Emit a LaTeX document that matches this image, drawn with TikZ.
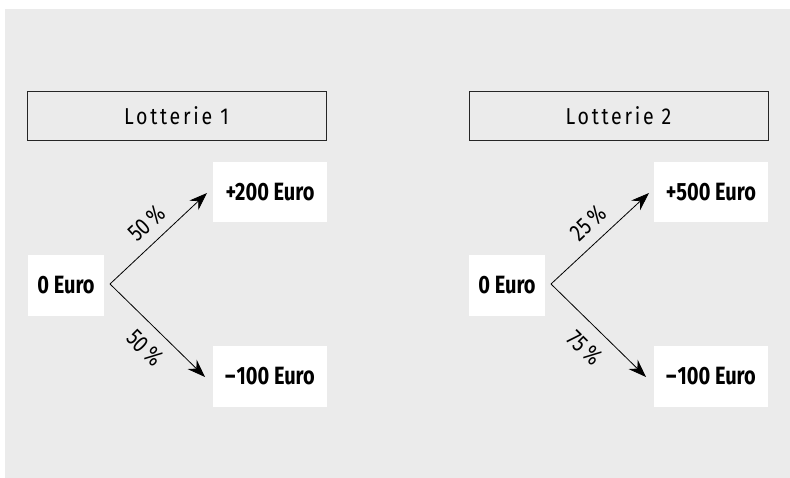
\documentclass[tikz,border=0pt]{standalone}
\usepackage{fontspec}
\setmainfont{Fira Sans}[FakeStretch=0.8]
\newfontfamily\spacedfont{Fira Sans}[FakeStretch=0.85,LetterSpace=12]
\usetikzlibrary{arrows.meta}
\definecolor{bggray}{HTML}{EBEBEB}
\begin{document}
\begin{tikzpicture}[x=1pt,y=-1pt,
  titlebox/.style={draw=black!85,line width=0.8pt,fill=bggray,minimum width=299pt,minimum height=49pt,inner sep=0pt,font=\spacedfont\fontsize{23}{23}\selectfont},
  valbox/.style={fill=white,inner sep=0pt,font=\bfseries\fontsize{25}{25}\selectfont},
  arr/.style={line width=0.8pt,-{Stealth[length=18pt,width=13pt,inset=6pt]}},
  pct/.style={font=\fontsize{24}{24}\selectfont,inner sep=0pt}]
\useasboundingbox (0,0) rectangle (790,478);
\fill[white] (0,0) rectangle (790,478);
\fill[bggray] (5,9) rectangle (790,478);
% Lotterie 1
\node[titlebox] (t1) at (176.5,115.5) {Lotterie 1};
\node[valbox,minimum width=76pt,minimum height=61pt] (s1) at (66,285.5) {0 Euro};
\node[valbox,minimum width=114pt,minimum height=60pt] (u1) at (270,192) {+200 Euro};
\node[valbox,minimum width=114pt,minimum height=61pt] (d1) at (270,376.5) {–\kern1pt100 Euro};
\coordinate (o1) at (110,284);
\coordinate (e1u) at (207,193);
\coordinate (e1d) at (205,377);
\draw[arr] (o1) -- (e1u);
\draw[arr] (o1) -- (e1d);
\node[pct,rotate=43] (p1u) at (147,223) {50\,\%};
\node[pct,rotate=-45] (p1d) at (145,348) {50\,\%};
% Lotterie 2
\node[titlebox] (t2) at (618.5,115.5) {Lotterie 2};
\node[valbox,minimum width=76pt,minimum height=61pt] (s2) at (507,285.5) {0 Euro};
\node[valbox,minimum width=114pt,minimum height=60pt] (u2) at (711,192) {+500 Euro};
\node[valbox,minimum width=114pt,minimum height=61pt] (d2) at (711,376.5) {–\kern1pt100 Euro};
\coordinate (o2) at (551,284);
\coordinate (e2u) at (649,193);
\coordinate (e2d) at (646,377);
\draw[arr] (o2) -- (e2u);
\draw[arr] (o2) -- (e2d);
\node[pct,rotate=43] (p2u) at (588,223) {25\,\%};
\node[pct,rotate=-45] (p2d) at (585,348) {75\,\%};
\end{tikzpicture}
\end{document}
